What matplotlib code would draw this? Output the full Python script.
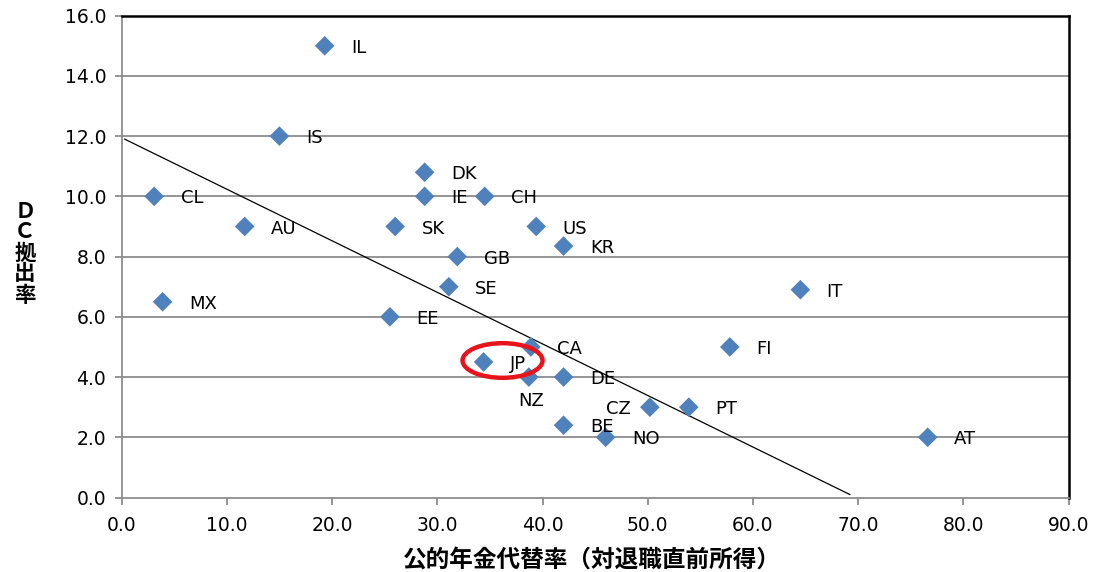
import matplotlib.pyplot as plt
from matplotlib.patches import Ellipse

plt.rcParams['font.family'] = ['DejaVu Sans', 'Noto Sans CJK JP']

# 国別データ（公的年金代替率, DC拠出率）
countries = ['IL', 'IS', 'CL', 'AU', 'MX', 'DK', 'IE', 'CH', 'SK', 'US',
             'KR', 'GB', 'SE', 'EE', 'CA', 'JP', 'NZ', 'DE', 'CZ', 'PT',
             'BE', 'NO', 'FI', 'IT', 'AT']
replacement = [19.3, 15.0, 3.1, 11.7, 3.9, 28.8, 28.8, 34.5, 26.0, 39.4,
               42.0, 31.9, 31.1, 25.5, 38.9, 34.4, 38.7, 42.0, 50.2, 53.9,
               42.0, 46.0, 57.8, 64.5, 76.6]
dc_rate = [15.0, 12.0, 10.0, 9.0, 6.5, 10.8, 10.0, 10.0, 9.0, 9.0,
           8.35, 8.0, 7.0, 6.0, 5.0, 4.5, 4.0, 4.0, 3.0, 3.0,
           2.4, 2.0, 5.0, 6.9, 2.0]

# 近似線の両端
trend_x = [0.3, 69.2]
trend_y = [11.9, 0.1]

x_ticks = [0, 10, 20, 30, 40, 50, 60, 70, 80, 90]
y_ticks = [0, 2, 4, 6, 8, 10, 12, 14, 16]

fig = plt.figure(figsize=(10.95, 5.72), dpi=100)
ax = fig.add_axes([0.111, 0.1302, 0.865, 0.8424])

ax.set_xlim(0, 90)
ax.set_ylim(0, 16)

# 横グリッド
for yv in y_ticks[1:-1]:
    ax.axhline(yv, color='#8c8c8c', lw=1.3, zorder=1)

ax.plot(trend_x, trend_y, color='black', lw=0.9, zorder=2)

ax.scatter(replacement, dc_rate, marker='D', s=100, color='#4f81bd',
           edgecolors='none', zorder=3)

# ラベル位置（特別なものだけ）
special = {'NZ': ((2, -17), 'center'), 'CZ': ((-14, -1), 'right')}
for name, xv, yv in zip(countries, replacement, dc_rate):
    offs, ha = special.get(name, ((19, -1.5), 'left'))
    ax.annotate(name, (xv, yv), xytext=offs, textcoords='offset points',
                ha=ha, va='center', fontsize=13, zorder=4)

# 日本を赤丸で強調
ax.add_patch(Ellipse((36.2, 4.55), 7.6, 1.15, fill=False,
                     edgecolor='#e8141c', lw=3.2, zorder=5))

ax.set_xticks(x_ticks)
ax.set_yticks(y_ticks)
ax.set_xticklabels([f'{v:.1f}' for v in x_ticks], fontsize=13.5)
ax.set_yticklabels([f'{v:.1f}' for v in y_ticks], fontsize=13.5)
ax.tick_params(axis='both', direction='out', length=5, width=1.3,
               color='#8c8c8c', pad=6)
ax.tick_params(axis='x', pad=8)

for side in ['left', 'bottom']:
    ax.spines[side].set_color('#8c8c8c')
    ax.spines[side].set_linewidth(1.3)
for side in ['top', 'right']:
    ax.spines[side].set_color('black')
    ax.spines[side].set_linewidth(1.8)

fig.text(0.541, 0.021, '公的年金代替率（対退職直前所得）', ha='center', va='center',
         fontsize=17, fontweight='bold', family=['Noto Sans CJK JP'])

# 縦書きのY軸ラベル（1文字ずつ）
ylabel_chars = 'ＤＣ拠出率'
ylabel_pix = [211, 232, 253, 274, 296]
for ch, py in zip(ylabel_chars, ylabel_pix):
    fig.text(25 / 1095, 1 - py / 572, ch, ha='center', va='center',
             fontsize=15.5, fontweight='bold', family=['Noto Sans CJK JP'])

fig.savefig('out.png', dpi=100)
